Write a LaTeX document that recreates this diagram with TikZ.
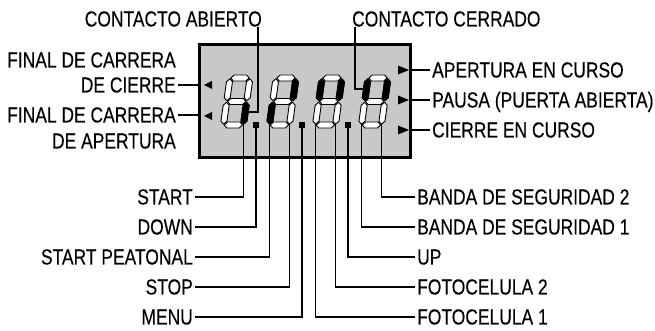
\documentclass[tikz,border=0pt]{standalone}
\usepackage{fontspec}
\setmainfont{Liberation Sans}[FakeStretch=0.80, FakeBold=0.3]
\definecolor{lcdgray}{RGB}{200,200,200}
\tikzset{
  lbl/.style={font=\fontsize{21.8}{25}\selectfont, inner xsep=2pt, inner ysep=0pt, text height=15pt, text depth=0pt},
  wire/.style={line width=1.2pt},
  segoff/.style={fill=white, draw=black, line width=0.9pt, line join=round},
  segon/.style={fill=black, draw=black, line width=0.9pt, line join=round},
  dpoint/.style={fill=black, minimum size=6pt, inner sep=0pt},
  lcdbox/.style={draw, line width=2.5pt, fill=lcdgray, minimum width=211pt, minimum height=113pt, inner sep=0pt},
}
\def\lcdA{(3.8,50)--(6.8,53)--(19.2,53)--(22.2,50)--(19.2,47)--(6.8,47)--cycle}
\def\lcdG{(3.8,26.5)--(6.8,29.5)--(19.2,29.5)--(22.2,26.5)--(19.2,23.5)--(6.8,23.5)--cycle}
\def\lcdD{(3.8,3)--(6.8,6)--(19.2,6)--(22.2,3)--(19.2,0)--(6.8,0)--cycle}
\def\lcdF{(3,27.3)--(6,30.3)--(6,46.2)--(3,49.2)--(0,46.2)--(0,30.3)--cycle}
\def\lcdE{(3,3.8)--(6,6.8)--(6,22.7)--(3,25.7)--(0,22.7)--(0,6.8)--cycle}
\def\lcdB{(23,27.3)--(26,30.3)--(26,46.2)--(23,49.2)--(20,46.2)--(20,30.3)--cycle}
\def\lcdC{(23,3.8)--(26,6.8)--(26,22.7)--(23,25.7)--(20,22.7)--(20,6.8)--cycle}
\newcommand\lcddigit[3]{%
  \begin{scope}[shift={(#1,203)},xslant=0.14]
    \foreach \s in {A,B,C,D,E,F,G}{\filldraw[segoff] \csname lcd\s\endcsname;}
    \foreach \s in {#3}{\filldraw[segon] \csname lcd\s\endcsname;}
    \coordinate (#2e) at (3,3.8);
    \coordinate (#2c) at (23,3.8);
    \coordinate (#2r) at (26,16);
    \coordinate (#2l) at (0,39);
  \end{scope}}
\begin{document}
\begin{tikzpicture}[x=1pt,y=1pt]
\useasboundingbox (0,0) rectangle (655,331);
\node[lcdbox] (box) at (305,230) {};
% digits
\lcddigit{220}{d1}{C}
\lcddigit{266}{d2}{B,E}
\lcddigit{312}{d3}{F,B}
\lcddigit{358}{d4}{F,B}
\node[dpoint] (dp1) at (256,206) {};
\node[dpoint] (dp2) at (302,206) {};
\node[dpoint] (dp3) at (348,206) {};
% indicator triangles
\fill (204,246) -- (212,250) -- (212,242) -- cycle;
\fill (204,215) -- (212,219) -- (212,211) -- cycle;
\fill (409,261) -- (398,265.5) -- (398,256.5) -- cycle;
\fill (409,231) -- (398,235.5) -- (398,226.5) -- cycle;
\fill (409,201) -- (398,205.5) -- (398,196.5) -- cycle;
% top labels
\node[lbl, anchor=east] (ca) at (264,312) {CONTACTO ABIERTO};
\node[lbl, anchor=west] (cc) at (350,312) {CONTACTO CERRADO};
% left labels
\node[lbl, anchor=east] (fc1) at (178,271) {FINAL DE CARRERA};
\node[lbl, anchor=east] (fc2) at (178,246) {DE CIERRE};
\node[lbl, anchor=east] (fa1) at (178,216) {FINAL DE CARRERA};
\node[lbl, anchor=east] (fa2) at (178,190) {DE APERTURA};
% right labels
\node[lbl, anchor=west] (ap) at (430,261) {APERTURA EN CURSO};
\node[lbl, anchor=west] (pa) at (430,231) {PAUSA (PUERTA ABIERTA)};
\node[lbl, anchor=west] (ci) at (430,201) {CIERRE EN CURSO};
% bottom left labels
\node[lbl, anchor=east] (start) at (195,134) {START};
\node[lbl, anchor=east] (down) at (195,104) {DOWN};
\node[lbl, anchor=east] (peat) at (195,74) {START PEATONAL};
\node[lbl, anchor=east] (stop) at (195,44) {STOP};
\node[lbl, anchor=east] (menu) at (195,14) {MENU};
% bottom right labels
\node[lbl, anchor=west] (bs2) at (415,134) {BANDA DE SEGURIDAD 2};
\node[lbl, anchor=west] (bs1) at (415,104) {BANDA DE SEGURIDAD 1};
\node[lbl, anchor=west] (up) at (415,74) {UP};
\node[lbl, anchor=west] (f2) at (415,44) {FOTOCELULA 2};
\node[lbl, anchor=west] (f1) at (415,14) {FOTOCELULA 1};
% connectors
\draw[wire] (d1r) -| ([xshift=-6pt]ca.south east);
\draw[wire] (d4l) -| ([xshift=5pt]cc.south west);
\draw[wire] (fc2.east) -- (fc2.east -| box.west);
\draw[wire] (fa1.east) -- (fa1.east -| box.west);
\draw[wire] (box.east |- ap.west) -- (ap.west);
\draw[wire] (box.east |- pa.west) -- (pa.west);
\draw[wire] (box.east |- ci.west) -- (ci.west);
\draw[wire] (d1c) |- (start.east);
\draw[wire] (dp1.south) |- (down.east);
\draw[wire] (d2e) |- (peat.east);
\draw[wire] (d2c) |- (stop.east);
\draw[wire] (dp2.south) |- (menu.east);
\draw[wire] (d3e) |- (f1.west);
\draw[wire] (d3c) |- (f2.west);
\draw[wire] (dp3.south) |- (up.west);
\draw[wire] (d4e) |- (bs1.west);
\draw[wire] (d4c) |- (bs2.west);
\end{tikzpicture}
\end{document}
